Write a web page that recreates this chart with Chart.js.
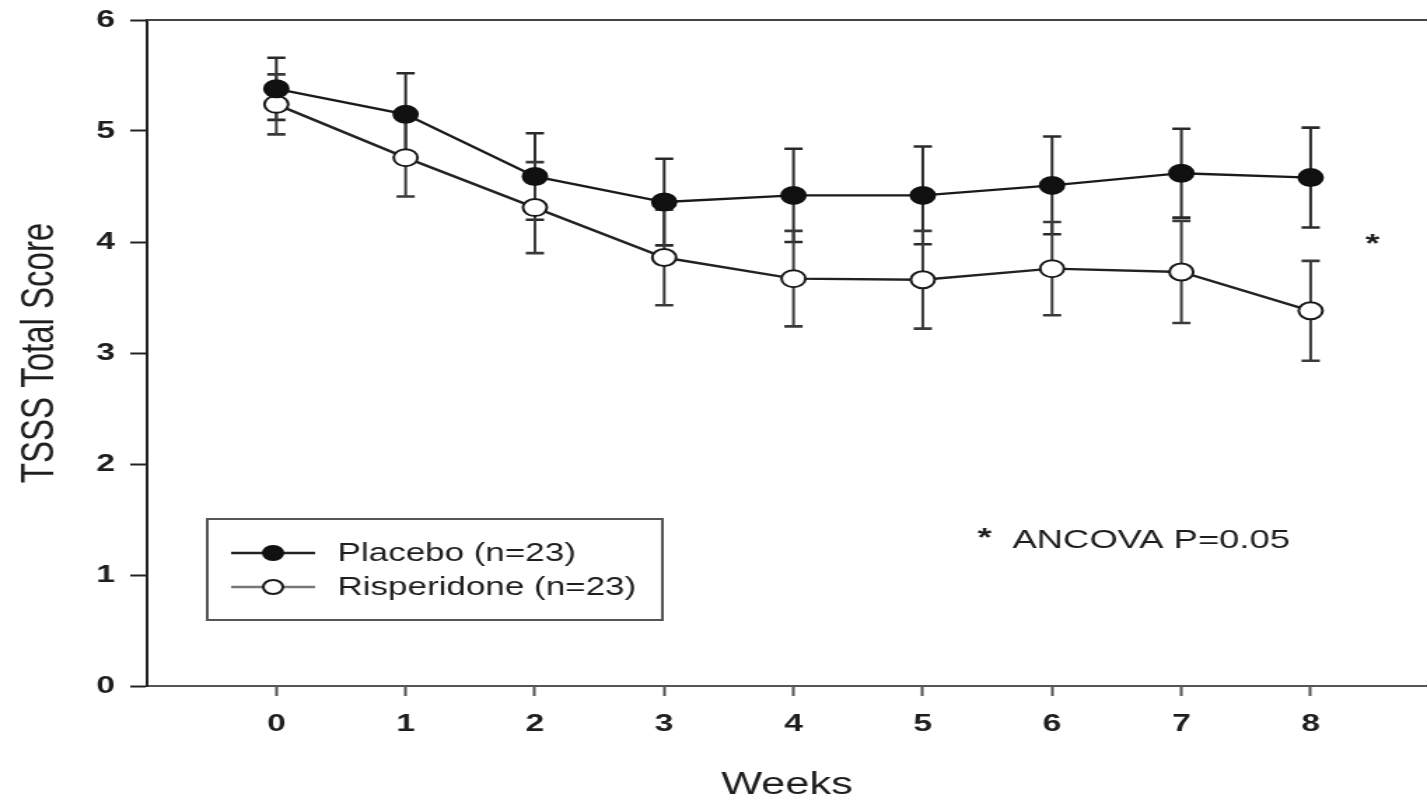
<!DOCTYPE html>
<html>
<head>
<meta charset="utf-8">
<script src="https://cdn.jsdelivr.net/npm/chart.js@4/dist/chart.umd.min.js"></script>
<style>
html,body{margin:0;padding:0;background:#fff;overflow:hidden}
#c{display:block;width:1427px;height:796px}
</style>
</head>
<body>
<canvas id="c" width="1019" height="796" style="width:1427px;height:796px"></canvas>
<script>
// ---- data ----
const weeks = [0, 1, 2, 3, 4, 5, 6, 7, 8];
const placebo = [5.38, 5.15, 4.59, 4.36, 4.42, 4.42, 4.51, 4.62, 4.58];
const placeboErr = [0.28, 0.37, 0.39, 0.39, 0.42, 0.44, 0.44, 0.40, 0.45];
const risperidone = [5.24, 4.76, 4.31, 3.86, 3.67, 3.66, 3.76, 3.73, 3.38];
const risperidoneErr = [0.27, 0.35, 0.41, 0.43, 0.43, 0.44, 0.42, 0.46, 0.45];
const yTicks = [0, 1, 2, 3, 4, 5, 6];
const seriesLabels = ['Placebo (n=23)', 'Risperidone (n=23)'];
const xTitle = 'Weeks';
const yTitle = 'TSSS Total Score';
const noteMark = '*';
const noteText = 'ANCOVA P=0.05';

const FONT = '"Liberation Sans", Arial, Helvetica, sans-serif';
const INK = '#1e1e1e';
const toPts = vals => weeks.map((w, i) => ({ x: w, y: vals[i] }));

const errorBars = {
  id: 'errorBars',
  beforeDatasetsDraw(chart) {
    const { ctx, scales: { x, y } } = chart;
    chart.data.datasets.forEach(ds => {
      const errs = ds.errors;
      if (!errs) return;
      ctx.save();
      ctx.strokeStyle = ds.errorColor;
      ds.data.forEach((p, i) => {
        const px = x.getPixelForValue(p.x);
        const yt = y.getPixelForValue(p.y + errs[i]);
        const yb = y.getPixelForValue(p.y - errs[i]);
        ctx.lineWidth = 2;
        ctx.beginPath();
        ctx.moveTo(px, yt); ctx.lineTo(px, yb);
        ctx.stroke();
        ctx.lineWidth = 2.6;
        ctx.beginPath();
        ctx.moveTo(px - 6.5, yt); ctx.lineTo(px + 6.5, yt);
        ctx.moveTo(px - 6.5, yb); ctx.lineTo(px + 6.5, yb);
        ctx.stroke();
      });
      ctx.restore();
    });
  }
};

const decorations = {
  id: 'decorations',
  afterDraw(chart) {
    const { ctx, chartArea: a } = chart;
    ctx.save();
    // top frame line
    ctx.strokeStyle = '#444';
    ctx.lineWidth = 2;
    ctx.beginPath();
    ctx.moveTo(a.left, a.top); ctx.lineTo(a.right, a.top);
    ctx.stroke();

    // significance mark next to week 8
    ctx.fillStyle = INK;
    ctx.font = 'bold 26px ' + FONT;
    ctx.textBaseline = 'alphabetic';
    ctx.textAlign = 'center';
    ctx.fillText(noteMark, 980, 252);

    // note
    ctx.textAlign = 'left';
    ctx.font = 'bold 26px ' + FONT;
    ctx.fillText(noteMark, 698, 546);
    ctx.font = '26px ' + FONT;
    ctx.fillText(noteText, 723, 548);

    // legend box
    const bx = 148, by = 519, bw = 325, bh = 101;
    ctx.strokeStyle = '#555';
    ctx.lineWidth = 2;
    ctx.strokeRect(bx, by, bw, bh);
    const rows = [553, 587];
    chart.data.datasets.forEach((ds, i) => {
      const ry = rows[i];
      ctx.strokeStyle = ds.legendLine;
      ctx.lineWidth = 2.4;
      ctx.beginPath();
      ctx.moveTo(165, ry); ctx.lineTo(225, ry);
      ctx.stroke();
      ctx.beginPath();
      ctx.arc(195, ry, 7, 0, Math.PI * 2);
      ctx.fillStyle = ds.pointBackgroundColor;
      ctx.fill();
      ctx.lineWidth = 2;
      ctx.strokeStyle = ds.pointBorderColor;
      ctx.stroke();
      ctx.fillStyle = INK;
      ctx.font = '25px ' + FONT;
      ctx.textAlign = 'left';
      ctx.textBaseline = 'middle';
      ctx.fillText(ds.label, 241, ry + 1);
    });
    ctx.restore();
  }
};

new Chart(document.getElementById('c'), {
  type: 'line',
  data: {
    datasets: [
      {
        label: seriesLabels[0],
        data: toPts(placebo),
        errors: placeboErr,
        errorColor: '#2a2a2a',
        legendLine: '#222',
        borderColor: '#1a1a1a',
        borderWidth: 2.4,
        pointRadius: 8.5,
        pointBackgroundColor: '#111',
        pointBorderColor: '#111',
        pointBorderWidth: 2,
        tension: 0
      },
      {
        label: seriesLabels[1],
        data: toPts(risperidone),
        errors: risperidoneErr,
        errorColor: '#3a3a3a',
        legendLine: '#777',
        borderColor: '#222',
        borderWidth: 2.4,
        pointRadius: 8.5,
        pointBackgroundColor: '#fff',
        pointBorderColor: '#1a1a1a',
        pointBorderWidth: 2,
        tension: 0
      }
    ]
  },
  options: {
    responsive: false,
    animation: false,
    devicePixelRatio: 1,
    layout: { autoPadding: false, padding: { top: 20, right: 0, bottom: 0, left: 0 } },
    plugins: { legend: { display: false }, tooltip: { enabled: false } },
    scales: {
      x: {
        type: 'linear',
        min: -1,
        max: 8.9,
        afterBuildTicks: s => { s.ticks = weeks.map(v => ({ value: v })); },
        afterFit: s => { s.height = 110; s.paddingLeft = 0; s.paddingRight = 0; },
        grid: { display: true, drawOnChartArea: false, drawTicks: true, tickLength: 10, tickWidth: 2, tickColor: '#555' },
        border: { display: true, color: '#555', width: 2 },
        ticks: { padding: 14, color: INK, font: { family: FONT, size: 24, weight: 'bold' } },
        title: { display: true, text: xTitle, color: INK, padding: { top: 0, bottom: -5 }, font: { family: FONT, size: 31, lineHeight: 1 } }
      },
      y: {
        min: 0,
        max: 6,
        afterBuildTicks: s => { s.ticks = yTicks.map(v => ({ value: v })); },
        afterFit: s => { s.width = 105; s.paddingTop = 0; s.paddingBottom = 0; },
        grid: { display: true, drawOnChartArea: false, drawTicks: true, tickLength: 12, tickWidth: 2, tickColor: '#222' },
        border: { display: true, color: '#222', width: 2 },
        ticks: { padding: 11, color: INK, font: { family: FONT, size: 24, weight: 'bold' } },
        title: { display: true, text: yTitle, color: INK, padding: { top: 12.6, bottom: 0 }, font: { family: FONT, size: 33, lineHeight: 1 } }
      }
    }
  },
  plugins: [errorBars, decorations]
});
</script>
</body>
</html>
